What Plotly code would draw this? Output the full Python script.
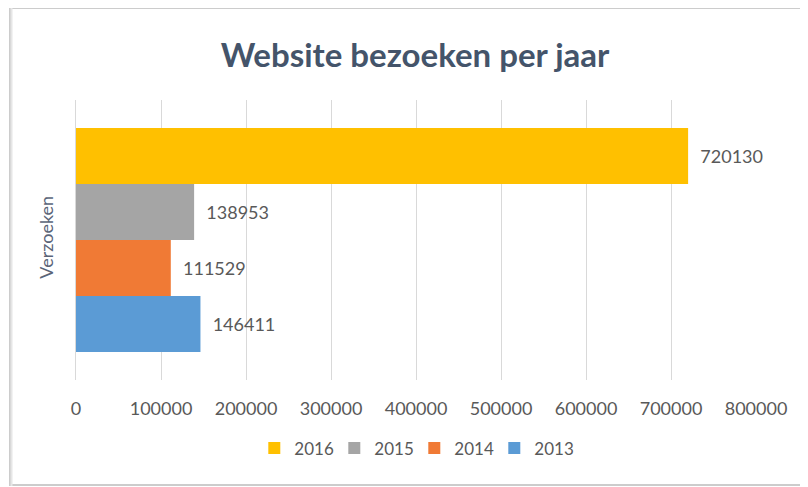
import plotly.graph_objects as go

category = ["Verzoeken"]
years = ["2013", "2014", "2015", "2016"]
values = [146411, 111529, 138953, 720130]
colors = ["#5B9BD5", "#F07A35", "#A5A5A5", "#FFC000"]
x_ticks = [0, 100000, 200000, 300000, 400000, 500000, 600000, 700000, 800000]

FONT = "Lato"
GRAY = "#595959"

# The page body adds an 8px margin, so the figure is laid out 8px smaller.
W, H = 800, 479
L, R, T, B = 68, 52, 92, 107
PW, PH = W - L - R, H - T - B


def px_x(fx):
    return (fx - L) / PW


def px_y(fy):
    return (H - B - fy) / PH


fig = go.Figure()
for yr, v, c in zip(years, values, colors):
    fig.add_trace(go.Bar(
        y=category, x=[v], name=yr, orientation="h",
        marker=dict(color=c, line=dict(width=0)),
        text=[str(v)], texttemplate="\u00a0\u00a0%{text}",
        textposition="outside", cliponaxis=False, constraintext="none",
        textfont=dict(family=FONT, size=18, color=GRAY),
    ))

fig.update_layout(
    width=W, height=H,
    margin=dict(l=L, r=R, t=T, b=B, autoexpand=False),
    paper_bgcolor="white", plot_bgcolor="white",
    barmode="group", bargap=0.2, bargroupgap=0,
    title=dict(text="<b>Website bezoeken per jaar</b>", x=407/W, xanchor="center",
               y=1 - 47/H, yanchor="middle",
               font=dict(family=FONT, size=33, color="#44546A")),
    xaxis=dict(range=[0, 800000], tickvals=x_ticks, ticktext=[str(t) for t in x_ticks],
               showgrid=True, gridcolor="#D9D9D9", gridwidth=1, zeroline=False,
               showline=False, ticks="", ticklabelstandoff=16, automargin=False,
               tickfont=dict(family=FONT, size=18, color=GRAY)),
    yaxis=dict(showgrid=False, showline=True, linecolor="#D9D9D9", linewidth=1,
               tickangle=-90, ticks="", ticklabelstandoff=15, automargin=False,
               tickfont=dict(family=FONT, size=18, color="#5A6478")),
    legend=dict(orientation="h", x=398/W, xanchor="center", y=-0.18, yanchor="top",
                traceorder="reversed", font=dict(family=FONT, size=17, color=GRAY),
                bgcolor="rgba(0,0,0,0)",
                itemwidth=30, entrywidth=35, itemsizing="constant"),
    showlegend=True,
    shapes=[
        dict(type="rect", xref="paper", yref="paper",
             x0=px_x(2), x1=px_x(806), y0=px_y(477), y1=px_y(0),
             line=dict(color="#CCCCCC", width=2), layer="below"),
        dict(type="line", xref="paper", yref="paper",
             x0=px_x(3.5), x1=px_x(3.5), y0=px_y(478), y1=px_y(0),
             line=dict(color="#E6E6E6", width=2), layer="below"),
    ],
)

fig.write_html("out.html")
